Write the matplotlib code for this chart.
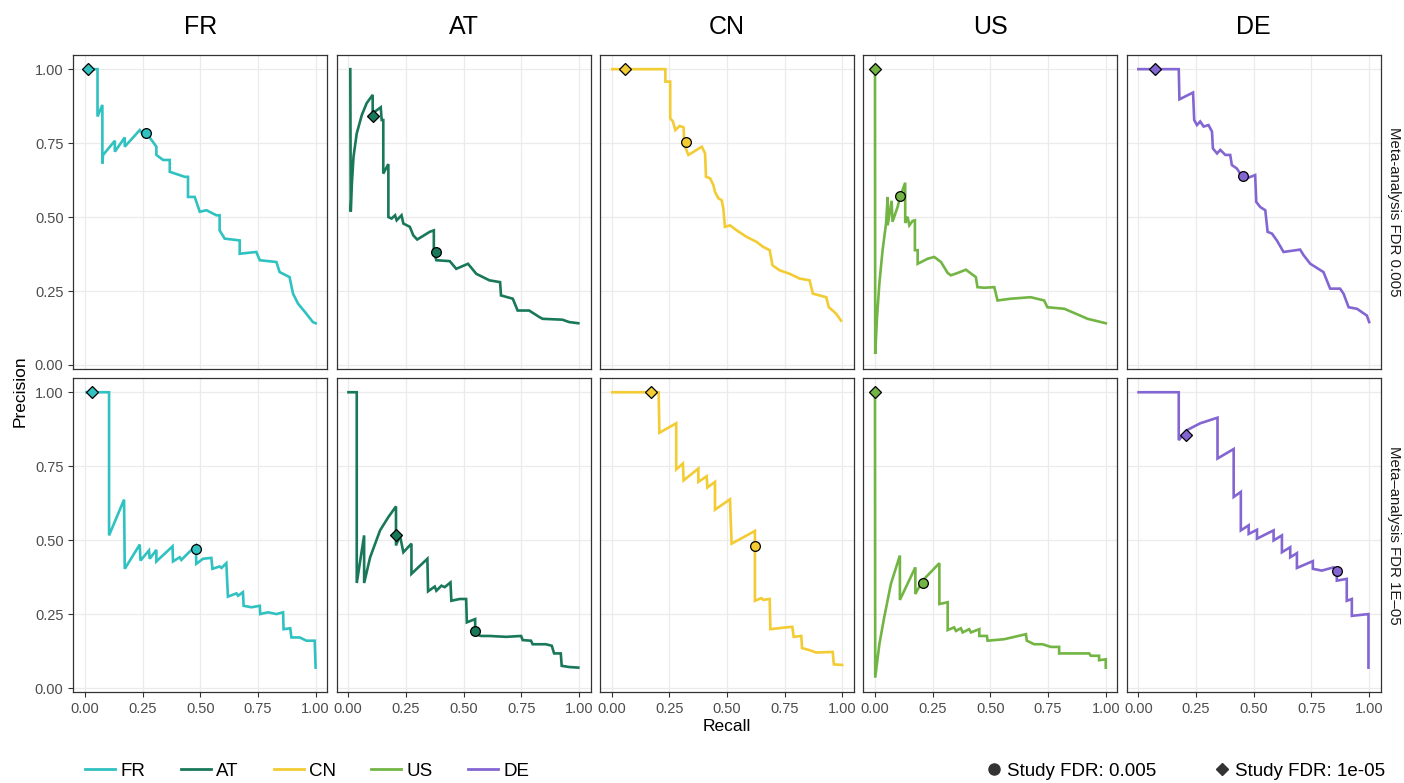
import matplotlib
matplotlib.use("Agg")
import matplotlib.pyplot as plt
from matplotlib.lines import Line2D

COUNTRIES = ["FR", "AT", "CN", "US", "DE"]
ROWS = ["Meta-analysis FDR 0.005", "Meta\u2013analysis FDR 1E\u201305"]
COLORS = ["#30C1C1", "#19775A", "#F3CB33", "#72B544", "#8466D3"]

# (recall, precision), meta-analysis FDR 0.005
FR_TOP = [(0.007, 1.0), (0.055, 1.0), (0.055, 0.84), (0.076, 0.879), (0.076, 0.681), (0.079, 0.71),
          (0.13, 0.758), (0.13, 0.721), (0.173, 0.769), (0.173, 0.738), (0.238, 0.794), (0.253, 0.777),
          (0.264, 0.783), (0.281, 0.769), (0.31, 0.738), (0.31, 0.71), (0.339, 0.693), (0.368, 0.693),
          (0.368, 0.653), (0.433, 0.636), (0.447, 0.636), (0.447, 0.568), (0.476, 0.568), (0.498, 0.518),
          (0.527, 0.523), (0.57, 0.506), (0.584, 0.506), (0.584, 0.455), (0.606, 0.427), (0.671, 0.421),
          (0.671, 0.376), (0.743, 0.382), (0.758, 0.354), (0.83, 0.348), (0.844, 0.314), (0.887, 0.297),
          (0.902, 0.241), (0.924, 0.207), (0.96, 0.173), (0.988, 0.145), (1.0, 0.141)]
AT_TOP = [(0.009, 1.0), (0.011, 0.518), (0.016, 0.614), (0.023, 0.704), (0.037, 0.783), (0.059, 0.845),
          (0.08, 0.885), (0.106, 0.913), (0.106, 0.851), (0.141, 0.871), (0.145, 0.828), (0.152, 0.828),
          (0.152, 0.647), (0.174, 0.679), (0.174, 0.5), (0.188, 0.495), (0.203, 0.506), (0.21, 0.489),
          (0.231, 0.506), (0.239, 0.478), (0.267, 0.467), (0.282, 0.438), (0.299, 0.424), (0.353, 0.45),
          (0.371, 0.455), (0.371, 0.382), (0.382, 0.354), (0.44, 0.351), (0.468, 0.325), (0.519, 0.342),
          (0.555, 0.308), (0.612, 0.286), (0.658, 0.28), (0.662, 0.235), (0.713, 0.224), (0.734, 0.184),
          (0.784, 0.184), (0.828, 0.162), (0.842, 0.156), (0.928, 0.153), (0.957, 0.145), (0.997, 0.141)]
CN_TOP = [(0.003, 1.0), (0.233, 1.0), (0.233, 0.958), (0.254, 0.958), (0.254, 0.834), (0.266, 0.823),
          (0.276, 0.794), (0.295, 0.808), (0.312, 0.803), (0.315, 0.744), (0.333, 0.71), (0.391, 0.738),
          (0.405, 0.715), (0.409, 0.636), (0.427, 0.631), (0.441, 0.608), (0.448, 0.585), (0.463, 0.563),
          (0.477, 0.557), (0.484, 0.529), (0.491, 0.467), (0.513, 0.472), (0.542, 0.455), (0.585, 0.433),
          (0.628, 0.416), (0.657, 0.399), (0.685, 0.388), (0.697, 0.337), (0.728, 0.32), (0.772, 0.308),
          (0.815, 0.292), (0.858, 0.286), (0.872, 0.241), (0.93, 0.229), (0.941, 0.195), (0.958, 0.184),
          (0.973, 0.173), (0.994, 0.15)]
US_TOP = [(0.0, 1.0), (0.001, 0.037), (0.009, 0.162), (0.019, 0.275), (0.033, 0.388), (0.048, 0.478),
          (0.055, 0.568), (0.055, 0.472), (0.072, 0.555), (0.076, 0.484), (0.098, 0.534), (0.11, 0.571),
          (0.131, 0.616), (0.131, 0.48), (0.141, 0.501), (0.149, 0.472), (0.163, 0.487), (0.173, 0.489),
          (0.173, 0.388), (0.185, 0.388), (0.185, 0.342), (0.228, 0.359), (0.257, 0.365), (0.286, 0.348),
          (0.315, 0.311), (0.329, 0.303), (0.358, 0.311), (0.394, 0.322), (0.437, 0.297), (0.444, 0.263),
          (0.473, 0.261), (0.517, 0.263), (0.531, 0.218), (0.589, 0.224), (0.675, 0.229), (0.733, 0.218),
          (0.747, 0.195), (0.82, 0.19), (0.877, 0.171), (0.921, 0.156), (1.0, 0.141)]
DE_TOP = [(0.0, 1.0), (0.175, 1.0), (0.178, 0.898), (0.237, 0.921), (0.242, 0.828), (0.254, 0.811),
          (0.268, 0.823), (0.283, 0.806), (0.304, 0.811), (0.319, 0.789), (0.323, 0.732), (0.341, 0.715),
          (0.355, 0.727), (0.377, 0.71), (0.398, 0.71), (0.405, 0.676), (0.427, 0.664), (0.449, 0.638),
          (0.47, 0.631), (0.506, 0.642), (0.511, 0.551), (0.528, 0.534), (0.55, 0.523), (0.56, 0.45),
          (0.579, 0.444), (0.6, 0.421), (0.629, 0.382), (0.701, 0.39), (0.716, 0.371), (0.745, 0.342),
          (0.802, 0.314), (0.831, 0.258), (0.874, 0.258), (0.889, 0.241), (0.911, 0.195), (0.947, 0.19),
          (0.99, 0.167), (1.0, 0.145)]

# meta-analysis FDR 1E-05
FR_BOT = [(0.007, 1.0), (0.105, 1.0), (0.105, 0.516), (0.17, 0.637), (0.173, 0.403), (0.238, 0.485),
          (0.241, 0.431), (0.278, 0.465), (0.281, 0.437), (0.31, 0.467), (0.31, 0.428), (0.38, 0.479),
          (0.382, 0.428), (0.411, 0.442), (0.418, 0.433), (0.481, 0.482), (0.483, 0.42), (0.512, 0.437),
          (0.548, 0.44), (0.553, 0.403), (0.584, 0.411), (0.592, 0.406), (0.613, 0.422), (0.62, 0.309),
          (0.657, 0.32), (0.664, 0.312), (0.685, 0.324), (0.688, 0.278), (0.722, 0.273), (0.758, 0.278),
          (0.76, 0.25), (0.794, 0.256), (0.83, 0.25), (0.859, 0.256), (0.861, 0.199), (0.89, 0.202),
          (0.895, 0.171), (0.931, 0.171), (0.96, 0.16), (0.996, 0.16), (1.0, 0.069)]
AT_BOT = [(0.001, 1.0), (0.037, 1.0), (0.037, 0.355), (0.069, 0.516), (0.069, 0.355), (0.095, 0.442),
          (0.138, 0.533), (0.174, 0.578), (0.207, 0.614), (0.207, 0.482), (0.224, 0.516), (0.239, 0.459),
          (0.274, 0.488), (0.274, 0.386), (0.343, 0.437), (0.346, 0.327), (0.375, 0.343), (0.382, 0.329),
          (0.404, 0.346), (0.418, 0.341), (0.443, 0.357), (0.447, 0.295), (0.483, 0.301), (0.511, 0.301),
          (0.514, 0.222), (0.55, 0.233), (0.55, 0.182), (0.576, 0.176), (0.612, 0.176), (0.684, 0.173),
          (0.749, 0.176), (0.756, 0.162), (0.792, 0.16), (0.799, 0.148), (0.856, 0.148), (0.882, 0.143),
          (0.892, 0.117), (0.921, 0.117), (0.925, 0.075), (0.957, 0.071), (0.997, 0.069)]
CN_BOT = [(0.003, 1.0), (0.204, 1.0), (0.207, 0.863), (0.28, 0.895), (0.28, 0.739), (0.309, 0.759),
          (0.312, 0.702), (0.376, 0.742), (0.376, 0.697), (0.412, 0.716), (0.415, 0.678), (0.448, 0.697),
          (0.448, 0.603), (0.513, 0.638), (0.52, 0.488), (0.621, 0.531), (0.621, 0.295), (0.649, 0.304),
          (0.657, 0.298), (0.685, 0.301), (0.688, 0.199), (0.757, 0.205), (0.783, 0.207), (0.789, 0.173),
          (0.822, 0.176), (0.825, 0.135), (0.858, 0.128), (0.886, 0.12), (0.958, 0.122), (0.963, 0.08),
          (0.999, 0.078)]
US_BOT = [(0.0, 1.0), (0.001, 0.035), (0.019, 0.148), (0.04, 0.239), (0.069, 0.352), (0.108, 0.448),
          (0.108, 0.298), (0.175, 0.408), (0.175, 0.318), (0.206, 0.363), (0.279, 0.422), (0.279, 0.284),
          (0.315, 0.29), (0.315, 0.196), (0.343, 0.205), (0.351, 0.193), (0.372, 0.202), (0.38, 0.188),
          (0.408, 0.199), (0.416, 0.188), (0.452, 0.199), (0.452, 0.176), (0.485, 0.176), (0.488, 0.16),
          (0.56, 0.165), (0.654, 0.182), (0.658, 0.16), (0.69, 0.148), (0.726, 0.148), (0.762, 0.139),
          (0.798, 0.139), (0.798, 0.117), (0.928, 0.117), (0.935, 0.109), (0.971, 0.109), (0.971, 0.094),
          (1.0, 0.097), (1.0, 0.069)]
DE_BOT = [(0.001, 1.0), (0.175, 1.0), (0.175, 0.838), (0.211, 0.872), (0.268, 0.895), (0.343, 0.914),
          (0.343, 0.776), (0.413, 0.808), (0.413, 0.646), (0.444, 0.663), (0.444, 0.533), (0.478, 0.55),
          (0.478, 0.521), (0.514, 0.535), (0.514, 0.505), (0.586, 0.533), (0.586, 0.499), (0.622, 0.516),
          (0.622, 0.459), (0.658, 0.476), (0.658, 0.442), (0.687, 0.456), (0.687, 0.406), (0.756, 0.429),
          (0.756, 0.403), (0.795, 0.397), (0.846, 0.408), (0.86, 0.395), (0.86, 0.363), (0.903, 0.369),
          (0.903, 0.295), (0.925, 0.301), (0.925, 0.244), (0.997, 0.25), (0.997, 0.069)]

CURVES = [[FR_TOP, AT_TOP, CN_TOP, US_TOP, DE_TOP],
          [FR_BOT, AT_BOT, CN_BOT, US_BOT, DE_BOT]]

# single-study points (recall, precision), one per country
STUDY_005_TOP = [(0.264, 0.783), (0.379, 0.383), (0.322, 0.753), (0.110, 0.571), (0.452, 0.640)]
STUDY_1E5_TOP = [(0.012, 1.0), (0.108, 0.84), (0.056, 1.0), (0.0, 1.0), (0.074, 1.0)]
STUDY_005_BOT = [(0.481, 0.471), (0.55, 0.193), (0.621, 0.48), (0.209, 0.355), (0.86, 0.395)]
STUDY_1E5_BOT = [(0.033, 1.0), (0.207, 0.518), (0.172, 1.0), (0.0, 1.0), (0.206, 0.854)]
STUDY_005 = [STUDY_005_TOP, STUDY_005_BOT]
STUDY_1E5 = [STUDY_1E5_TOP, STUDY_1E5_BOT]

TICKS = [0.0, 0.25, 0.5, 0.75, 1.0]
TICK_LABELS = ["0.00", "0.25", "0.50", "0.75", "1.00"]

plt.rcParams["font.family"] = ["Liberation Sans", "DejaVu Sans"]

fig, axes = plt.subplots(2, 5, figsize=(14.04, 7.83), dpi=100, sharex=True, sharey=True)
fig.subplots_adjust(left=0.0522, right=0.9834, top=0.9298, bottom=0.1162,
                    wspace=0.0374, hspace=0.029)

for r in range(2):
    for c in range(5):
        ax = axes[r, c]
        pts = CURVES[r][c]
        ax.plot([p[0] for p in pts], [p[1] for p in pts], color=COLORS[c], lw=1.9,
                solid_joinstyle="miter", zorder=3)
        x, y = STUDY_1E5[r][c]
        ax.plot(x, y, marker="D", ms=6, mfc=COLORS[c], mec="black", mew=0.9, zorder=4)
        x, y = STUDY_005[r][c]
        ax.plot(x, y, marker="o", ms=7, mfc=COLORS[c], mec="black", mew=0.9, zorder=4)

        ax.set_xlim(-0.05, 1.05)
        ax.set_ylim(-0.0135, 1.048)
        ax.set_xticks(TICKS, TICK_LABELS)
        ax.set_yticks(TICKS, TICK_LABELS)
        ax.grid(True, color="#EBEBEB", lw=0.9, zorder=0)
        ax.set_axisbelow(True)
        for s in ax.spines.values():
            s.set_color("#333333")
            s.set_linewidth(0.9)
        ax.tick_params(direction="out", length=3.5, width=0.8, color="#333333",
                       labelcolor="#4D4D4D", labelsize=10.5)
        if c > 0:
            ax.tick_params(axis="y", left=False)
        if r == 0:
            ax.tick_params(axis="x", bottom=False)
            ax.set_title(COUNTRIES[c], fontsize=18, pad=15)
        if c == 4:
            ax.text(1.052, 0.5, ROWS[r], transform=ax.transAxes, rotation=-90,
                    ha="center", va="center", fontsize=10.8, color="#1A1A1A")

fig.text(0.0145, 0.5, "Precision", rotation=90, ha="center", va="center", fontsize=12.5)
fig.text(0.518, 0.072, "Recall", ha="center", va="center", fontsize=12.5)

line_handles = [Line2D([], [], color=col, lw=2) for col in COLORS]
fig.legend(line_handles, COUNTRIES, loc="center left", bbox_to_anchor=(0.0605, 0.015),
           ncol=5, frameon=False, fontsize=13.5, handlelength=1.6, handletextpad=0.27,
           columnspacing=1.9, borderpad=0, borderaxespad=0)
shape_handles = [Line2D([], [], ls="none", marker="o", color="#333333", ms=8),
                 Line2D([], [], ls="none", marker="D", color="#333333", ms=6)]
fig.legend(shape_handles, ["Study FDR: 0.005", "Study FDR: 1e-05"], loc="center right",
           bbox_to_anchor=(0.9865, 0.015), ncol=2, frameon=False, fontsize=13.5,
           handlelength=0.8, handletextpad=0.3, columnspacing=3.1, borderpad=0, borderaxespad=0)

fig.savefig("out.png", dpi=100, facecolor="white")
